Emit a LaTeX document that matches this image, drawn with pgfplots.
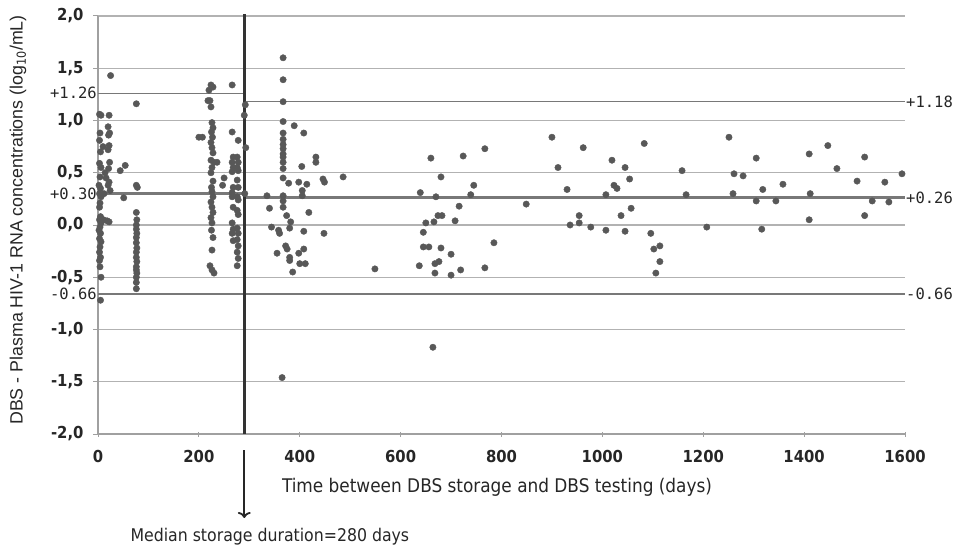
\documentclass[border=0pt]{standalone}
\usepackage{fontspec}
\setmainfont{DejaVu Sans Condensed}
\newfontfamily\armono{DejaVu Sans Mono}
\newfontfamily\arialf{Liberation Sans}
\usepackage{pgfplots}
\pgfplotsset{compat=1.18}
\usetikzlibrary{arrows.meta}

\definecolor{gridgray}{RGB}{178,178,178}
\definecolor{meangray}{RGB}{120,120,120}
\definecolor{dotgray}{RGB}{88,88,88}
\definecolor{axisgray}{RGB}{160,160,160}

\begin{document}
\begin{tikzpicture}
\path[use as bounding box] (0pt,0pt) rectangle (972pt,550pt);
\begin{axis}[
    at={(98pt,116pt)}, anchor=south west,
    scale only axis, width=807pt, height=418pt,
    xmin=0, xmax=1600, ymin=-2, ymax=2,
    xtick={0,200,...,1600},
    ytick={-2,-1.5,...,2},
    axis x line=bottom, axis y line=left,
    axis line style={-, axisgray, line width=1.2pt},
    ymajorgrids, grid style={gridgray, line width=1.3pt},
    major tick length=5pt,
    tick style={axisgray, line width=1pt},
    xtick align=center, ytick align=outside,
    /pgf/number format/assume math mode=true,
    xticklabel style={font=\fontsize{16.5}{16.5}\selectfont\bfseries, color=black!85, /pgf/number format/1000 sep={}, yshift=-10pt},
    yticklabel style={font=\fontsize{16.5}{16.5}\selectfont\bfseries, color=black!85, xshift=-6pt,
        /pgf/number format/.cd, fixed, fixed zerofill, precision=1, use comma},
    clip=false,
]
% mean and limits, before / after median storage time
\addplot[meangray, line width=1.6pt] coordinates {(0,1.26) (290,1.26)};
\addplot[meangray, line width=3pt] coordinates {(0,0.30) (290,0.30)};
\addplot[meangray, line width=1.6pt] coordinates {(0,-0.66) (290,-0.66)};
\addplot[meangray, line width=1.6pt] coordinates {(290,1.18) (1600,1.18)};
\addplot[meangray, line width=3pt] coordinates {(290,0.26) (1600,0.26)};
\addplot[meangray, line width=1.6pt] coordinates {(290,-0.66) (1600,-0.66)};

\addplot[only marks, mark=*, mark size=3.2pt, dotgray, mark options={draw=dotgray, fill=dotgray}] coordinates {
% 0-80 days
(3,1.06)(6,1.05)(4,0.88)(3,0.81)(5,0.70)(3,0.59)(6,0.55)(4,0.46)(2,0.38)(5,0.35)
(3,0.30)(6,0.27)(4,0.21)(3,0.17)(5,0.08)(3,0.05)(6,0.02)(4,-0.02)(2,-0.05)(5,-0.08)
(3,-0.13)(6,-0.16)(4,-0.21)(3,-0.26)(5,-0.31)(3,-0.34)(4,-0.40)(6,-0.50)(5,-0.72)
(10,0.75)(14,0.50)(12,0.30)(11,0.05)(16,0.45)
(22,1.05)(20,0.94)(23,0.88)(21,0.86)(22,0.76)(20,0.72)(23,0.60)(21,0.54)(22,0.41)
(20,0.38)(24,0.33)(22,0.03)(18,0.04)(25,1.43)
(44,0.52)(54,0.57)(51,0.26)
(76,1.16)(76,0.38)(78,0.36)(76,0.12)(77,0.05)(76,0.00)(76,-0.04)(77,-0.08)(76,-0.12)
(76,-0.17)(77,-0.22)(76,-0.26)(76,-0.31)(77,-0.35)(76,-0.40)(76,-0.43)(77,-0.46)
(76,-0.50)(76,-0.55)(76,-0.61)
% 200-295 days
(200,0.84)(207,0.84)(224,1.34)(228,1.32)(220,1.29)(218,1.19)(222,1.19)(224,1.13)
(226,0.98)(228,0.93)(225,0.89)(227,0.84)(224,0.79)(226,0.74)(228,0.69)(224,0.62)
(230,0.60)(226,0.55)(224,0.50)(228,0.42)(225,0.36)(226,0.32)(228,0.27)(224,0.22)
(226,0.17)(228,0.12)(224,0.07)(226,0.02)(225,-0.05)(228,-0.12)(226,-0.24)(222,-0.39)
(226,-0.43)(230,-0.46)(236,0.60)
(266,1.34)(266,0.89)(268,0.65)(266,0.60)(268,0.55)(266,0.51)(268,0.36)(266,0.31)
(266,0.27)(268,0.17)(266,0.02)(268,-0.04)(266,-0.08)(268,-0.15)
(250,0.45)(247,0.38)
(278,0.81)(276,0.65)(278,0.60)(276,0.55)(278,0.52)(276,0.43)(278,0.36)(276,0.27)
(278,0.24)(276,0.14)(278,0.10)(276,-0.03)(278,-0.08)(276,-0.14)(278,-0.20)(276,-0.26)
(278,-0.32)(276,-0.39)
(292,1.15)(290,1.05)(293,0.74)(291,0.30)
% 330-490 days
(367,1.60)(367,1.39)(367,1.18)(367,0.99)(367,0.88)(367,0.82)(367,0.77)(367,0.73)
(367,0.68)(367,0.65)(367,0.60)(367,0.54)(367,0.45)(367,0.28)(367,0.23)(367,0.17)
(389,0.95)(408,0.88)(432,0.65)(432,0.60)(404,0.56)(378,0.40)(398,0.41)(414,0.39)
(405,0.33)(405,0.28)(446,0.44)(449,0.41)(486,0.46)(335,0.28)(340,0.16)(418,0.12)
(374,0.09)(382,0.03)(344,-0.02)(358,-0.05)(360,-0.08)(380,-0.03)(408,-0.06)(448,-0.08)
(372,-0.20)(375,-0.23)(355,-0.27)(380,-0.31)(380,-0.34)(398,-0.27)(408,-0.23)
(400,-0.37)(411,-0.37)(386,-0.45)(365,-1.46)
% 540-860 days
(549,-0.42)(639,0.31)(637,-0.39)(645,-0.07)(645,-0.21)(656,-0.21)(650,0.02)(666,0.03)
(660,0.64)(670,0.27)(680,0.46)(674,0.09)(682,0.09)(680,-0.22)(668,-0.37)(676,-0.35)
(668,-0.46)(664,-1.17)(700,-0.28)(700,-0.48)(708,0.04)(716,0.18)(719,-0.43)(724,0.66)
(739,0.29)(745,0.38)(767,0.73)(767,-0.41)(785,-0.17)(849,0.20)
% 900-1600 days
(900,0.84)(912,0.55)(930,0.34)(936,0.00)(954,0.09)(954,0.02)(962,0.74)(977,-0.02)
(1007,-0.05)(1007,0.29)(1019,0.62)(1023,0.38)(1029,0.35)(1045,0.55)(1054,0.44)
(1057,0.16)(1037,0.09)(1045,-0.06)(1083,0.78)(1096,-0.08)(1102,-0.23)(1114,-0.20)
(1114,-0.35)(1106,-0.46)(1158,0.52)(1166,0.29)(1207,-0.02)(1251,0.84)(1261,0.49)
(1279,0.47)(1259,0.30)(1305,0.64)(1318,0.34)(1305,0.23)(1316,-0.04)(1344,0.23)
(1358,0.39)(1410,0.68)(1412,0.30)(1410,0.05)(1447,0.76)(1465,0.54)(1505,0.42)
(1520,0.65)(1520,0.09)(1535,0.23)(1560,0.41)(1568,0.22)(1594,0.49)
};

% median storage duration
\addplot[black!80, line width=2.6pt] coordinates {(290,-2) (290,2.02)};
\coordinate (med) at (axis cs:290,-2);

\tikzset{lim/.style={font=\armono\fontsize{15.5}{15.5}\selectfont, text=black!85, inner sep=1pt}}
\node[lim, anchor=east] at (axis cs:0,1.26) {+1.26};
\node[lim, anchor=east] at (axis cs:0,0.30) {+0.30};
\node[lim, anchor=east] at (axis cs:0,-0.66) {-0.66};
\node[lim, anchor=west] at (axis cs:1600,1.18) {+1.18};
\node[lim, anchor=west] at (axis cs:1600,0.26) {+0.26};
\node[lim, anchor=west] at (axis cs:1600,-0.66) {-0.66};
\end{axis}
\draw[black!85, line width=1.8pt, -{To[length=6pt, width=13pt]}] ([yshift=-16pt]med) -- ([yshift=-84pt]med);
\node[rotate=90, font=\arialf\fontsize{17.8}{17.8}\selectfont, text=black!85] at (18pt,330pt)
    {DBS - Plasma HIV-1 RNA concentrations (log$_{\mathrm{10}}$/mL)};
\node[font=\fontsize{18.8}{18.8}\selectfont, text=black!85] at (497pt,63pt)
    {Time between DBS storage and DBS testing (days)};
\node[anchor=west, font=\fontsize{17.5}{17.5}\selectfont, text=black!85] at (127pt,13pt)
    {Median storage duration=280 days};
\end{tikzpicture}
\end{document}
